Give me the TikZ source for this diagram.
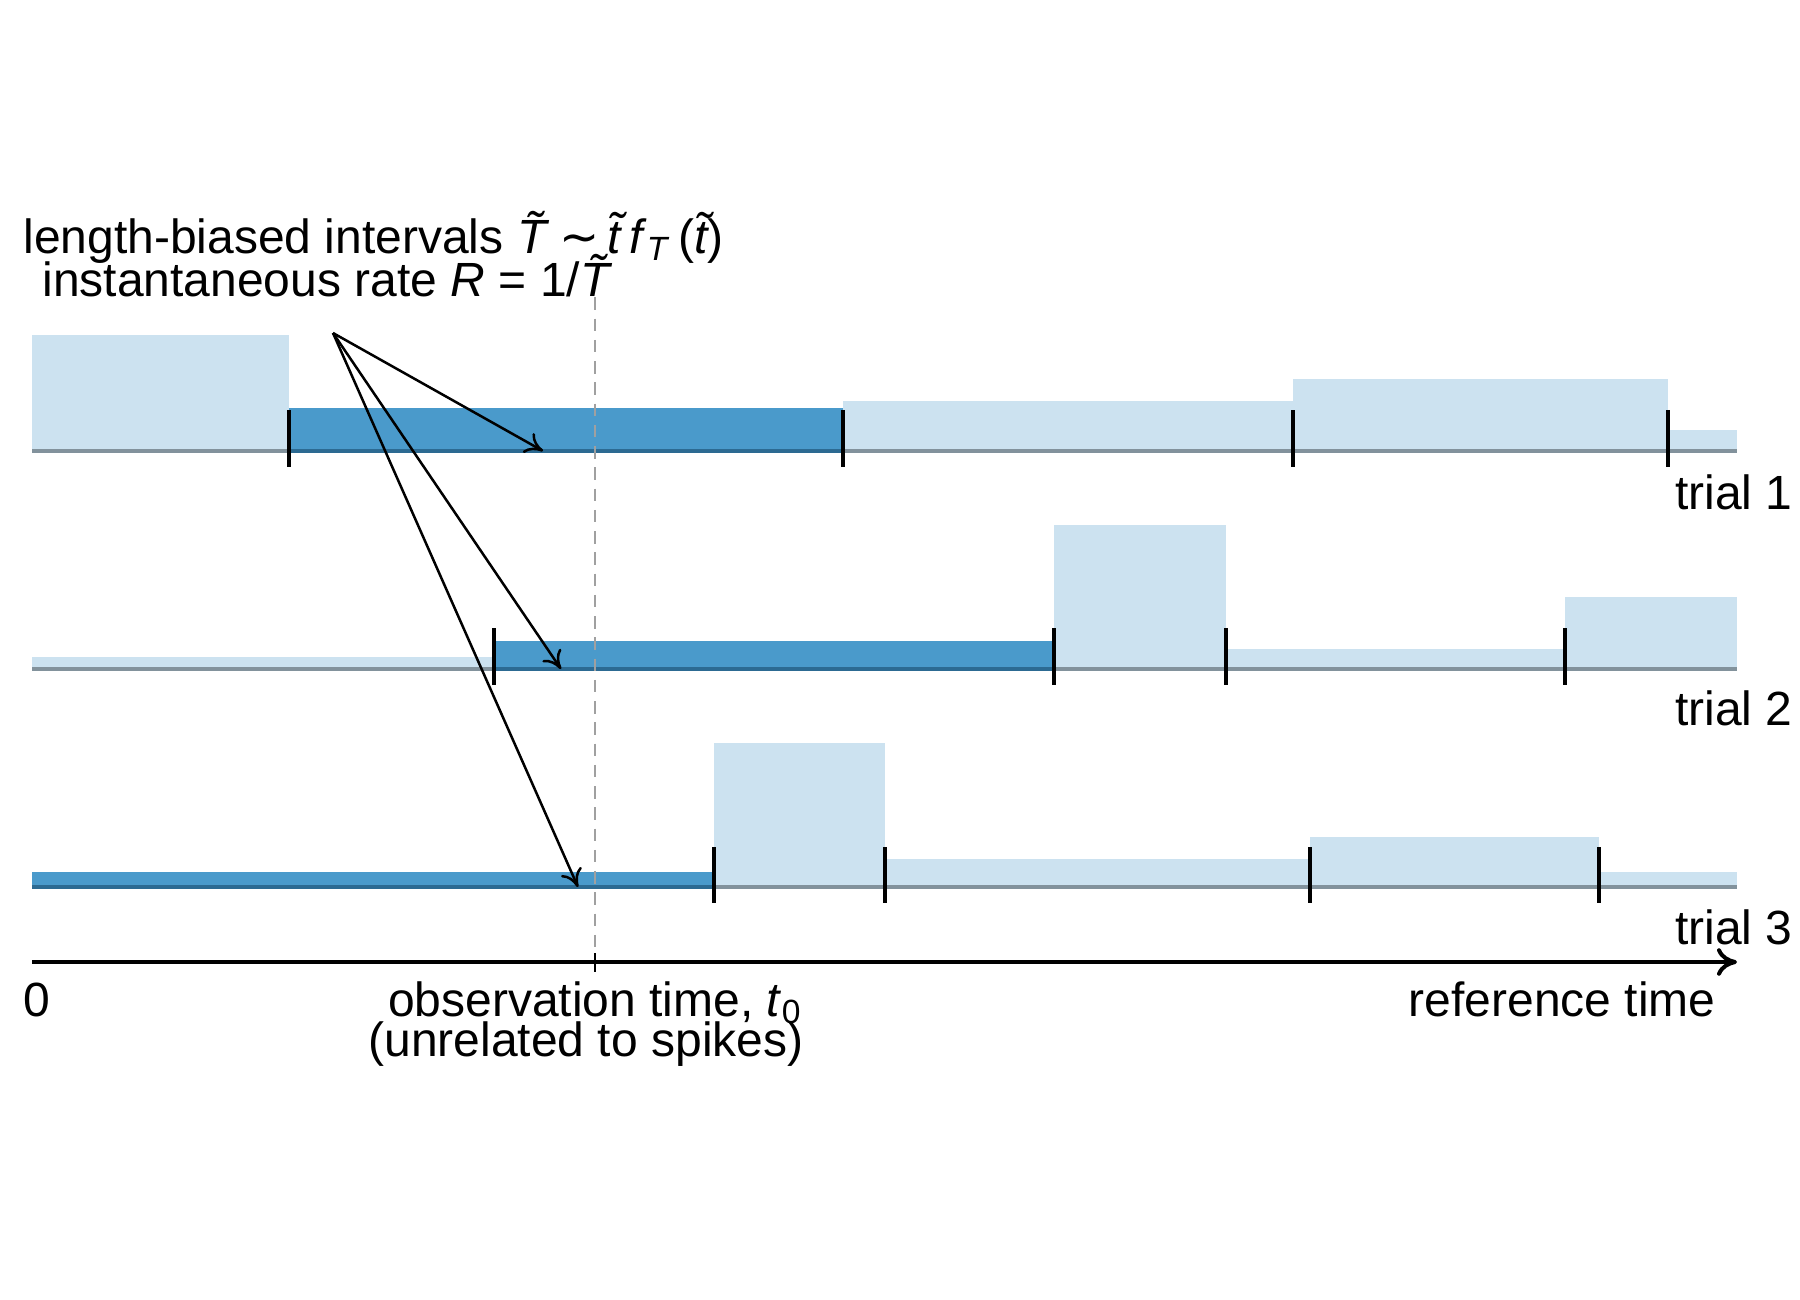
\documentclass[tikz,border=0pt]{standalone}
\usepackage{fontspec}
\setmainfont{Liberation Sans}
\newfontfamily\symfont{DejaVu Sans}
\usetikzlibrary{arrows.meta}
\definecolor{lightb}{RGB}{204,226,240}
\definecolor{darkb}{RGB}{74,154,203}
\definecolor{baseg}{RGB}{130,146,156}
\definecolor{darkedge}{RGB}{44,106,146}
\definecolor{dashg}{RGB}{160,160,160}
\begin{document}
\begin{tikzpicture}[x=0.4pt,y=-0.4pt,
  lbox/.style={fill=lightb},
  dbox/.style={fill=darkb},
  spk/.style={line width=1.6pt,black},
  baseln/.style={line width=1.6pt,baseg},
  darkln/.style={line width=1.6pt,darkedge},
  lbl/.style={font=\fontsize{19.2}{21}\selectfont,inner sep=0pt},
  ptr/.style={line width=1pt,black,-{To[length=7pt,width=9pt]}},
  obsline/.style={line width=1pt,dashg,dash pattern=on 5pt off 3.5pt}]
\fill[white] (0,0) rectangle (1800,1300);
\useasboundingbox (0,0) rectangle (1800,1300);

% trial 1
\fill[lbox] (32,335) rectangle (289,451);
\fill[dbox] (289,408) rectangle (843,451);
\fill[lbox] (843,401) rectangle (1293,451);
\fill[lbox] (1293,379) rectangle (1668,451);
\fill[lbox] (1668,430) rectangle (1737,451);
\draw[baseln] (32,451) -- (1737,451);
\draw[darkln] (289,451) -- (843,451);
\foreach \x in {289,843,1293,1668} \draw[spk] (\x,410) -- (\x,467);

% trial 2
\fill[lbox] (32,657) rectangle (494,669);
\fill[dbox] (494,641) rectangle (1054,669);
\fill[lbox] (1054,525) rectangle (1226,669);
\fill[lbox] (1226,649) rectangle (1565,669);
\fill[lbox] (1565,597) rectangle (1737,669);
\draw[baseln] (32,669) -- (1737,669);
\draw[darkln] (494,669) -- (1054,669);
\foreach \x in {494,1054,1226,1565} \draw[spk] (\x,628) -- (\x,685);

% trial 3
\fill[dbox] (32,872) rectangle (714,887);
\fill[lbox] (714,743) rectangle (885,887);
\fill[lbox] (885,859) rectangle (1310,887);
\fill[lbox] (1310,837) rectangle (1599,887);
\fill[lbox] (1599,872) rectangle (1737,887);
\draw[baseln] (32,887) -- (1737,887);
\draw[darkln] (32,887) -- (714,887);
\foreach \x in {714,885,1310,1599} \draw[spk] (\x,847) -- (\x,903);

% observation time
\coordinate (obstop) at (595,276);
\coordinate (obsbot) at (595,962);
\draw[obsline] (obstop) -- (obsbot);

% axis
\coordinate (ax0) at (32,962);
\coordinate (ax1) at (1737,962);
\draw[line width=1.6pt,-{To[length=8pt,width=11pt]}] (ax0) -- (ax1);
\draw[line width=1pt] (595,953) -- (595,972);

% pointer arrows
\coordinate (src) at (333,333);
\coordinate (tip1) at (543,451);
\coordinate (tip2) at (561,669);
\coordinate (tip3) at (578,887);
\draw[ptr] (src) -- (tip1);
\draw[ptr] (src) -- (tip2);
\draw[ptr] (src) -- (tip3);

% labels
\node[lbl,anchor=base west] (l1) at (23,253) {length-biased intervals \textit{\~T} {\symfont ∼}\,\textit{\~t\,f}\textsubscript{\textit{T}}\,(\textit{\~t})};
\node[lbl,anchor=base west] (l2) at (42,296) {instantaneous rate \textit{R} = 1/\textit{\~T}};
\node[lbl,anchor=base east] (t1) at (1793,509) {trial 1};
\node[lbl,anchor=base east] (t2) at (1793,725) {trial 2};
\node[lbl,anchor=base east] (t3) at (1793,944) {trial 3};
\node[lbl,anchor=base west] (zero) at (23,1016) {0};
\node[lbl,anchor=base] (obs) at (595,1016) {observation time, \textit{t}\textsubscript{0}};
\node[lbl,anchor=base] (unrel) at (586,1056) {(unrelated to spikes)};
\node[lbl,anchor=base east] (ref) at (1716,1016) {reference time};
\end{tikzpicture}
\end{document}
